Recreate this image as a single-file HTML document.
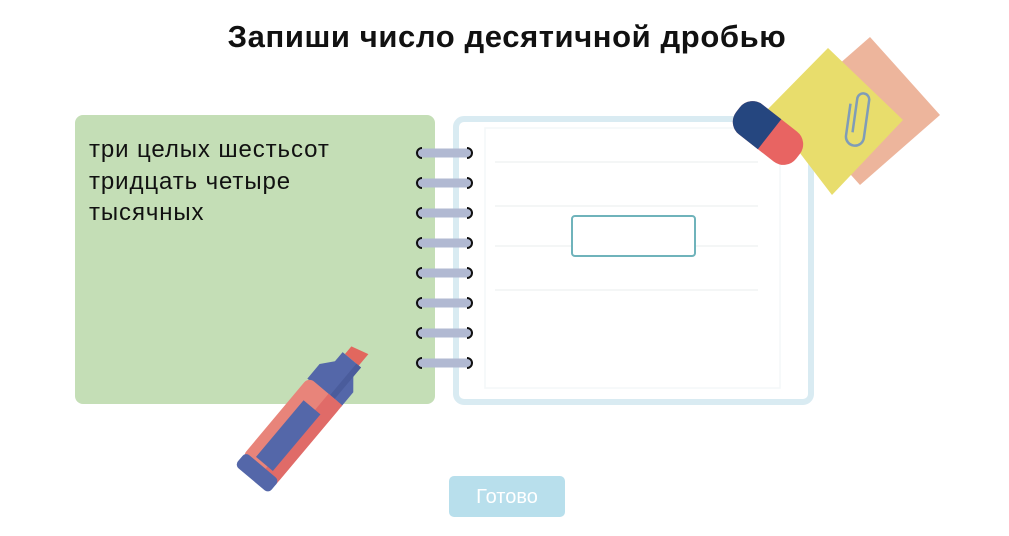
<!DOCTYPE html>
<html><head><meta charset="utf-8"><style>
html,body{margin:0;padding:0;background:#fff;}
body{width:1009px;height:536px;overflow:hidden;position:relative;font-family:"Liberation Sans","DejaVu Sans",sans-serif;}
</style></head><body>
<svg width="1009" height="536" viewBox="0 0 1009 536" xmlns="http://www.w3.org/2000/svg" style="position:absolute;left:0;top:0">
<text x="507" y="47" text-anchor="middle" font-family="Liberation Sans, DejaVu Sans, sans-serif" font-weight="bold" font-size="31" letter-spacing="0.6" fill="#111">Запиши число десятичной дробью</text>
<rect x="75" y="115" width="360" height="289" rx="8" fill="#c4deb6"/>
<g font-family="Liberation Sans, DejaVu Sans, sans-serif" font-size="24" letter-spacing="0.9" fill="#111">
<text x="89" y="157">три целых шестьсот</text>
<text x="89" y="189">тридцать четыре</text>
<text x="89" y="220">тысячных</text>
</g>
<rect x="456" y="119" width="355" height="283" rx="8" fill="#fff" stroke="#d9ebf2" stroke-width="6"/>
<rect x="485" y="128" width="295" height="260" fill="#fff" stroke="#f4f7f8" stroke-width="1.5"/>
<g stroke="#f1f3f4" stroke-width="1.5">
<line x1="495" y1="162" x2="758" y2="162"/><line x1="495" y1="206" x2="758" y2="206"/>
<line x1="495" y1="246" x2="758" y2="246"/><line x1="495" y1="290" x2="758" y2="290"/>
</g>
<rect x="572" y="216" width="123" height="40" rx="3" fill="#fff" stroke="#6fb3bb" stroke-width="2"/>
<g>
<g transform="translate(0,153)"><line x1="420" y1="0" x2="468" y2="0" stroke="#b1b9d2" stroke-width="9" stroke-linecap="round"/><path d="M422,-5 A5,5 0 0 0 422,5" fill="none" stroke="#111" stroke-width="2"/><path d="M467,-5 A5,5 0 0 1 467,5" fill="none" stroke="#111" stroke-width="2"/></g>
<g transform="translate(0,183)"><line x1="420" y1="0" x2="468" y2="0" stroke="#b1b9d2" stroke-width="9" stroke-linecap="round"/><path d="M422,-5 A5,5 0 0 0 422,5" fill="none" stroke="#111" stroke-width="2"/><path d="M467,-5 A5,5 0 0 1 467,5" fill="none" stroke="#111" stroke-width="2"/></g>
<g transform="translate(0,213)"><line x1="420" y1="0" x2="468" y2="0" stroke="#b1b9d2" stroke-width="9" stroke-linecap="round"/><path d="M422,-5 A5,5 0 0 0 422,5" fill="none" stroke="#111" stroke-width="2"/><path d="M467,-5 A5,5 0 0 1 467,5" fill="none" stroke="#111" stroke-width="2"/></g>
<g transform="translate(0,243)"><line x1="420" y1="0" x2="468" y2="0" stroke="#b1b9d2" stroke-width="9" stroke-linecap="round"/><path d="M422,-5 A5,5 0 0 0 422,5" fill="none" stroke="#111" stroke-width="2"/><path d="M467,-5 A5,5 0 0 1 467,5" fill="none" stroke="#111" stroke-width="2"/></g>
<g transform="translate(0,273)"><line x1="420" y1="0" x2="468" y2="0" stroke="#b1b9d2" stroke-width="9" stroke-linecap="round"/><path d="M422,-5 A5,5 0 0 0 422,5" fill="none" stroke="#111" stroke-width="2"/><path d="M467,-5 A5,5 0 0 1 467,5" fill="none" stroke="#111" stroke-width="2"/></g>
<g transform="translate(0,303)"><line x1="420" y1="0" x2="468" y2="0" stroke="#b1b9d2" stroke-width="9" stroke-linecap="round"/><path d="M422,-5 A5,5 0 0 0 422,5" fill="none" stroke="#111" stroke-width="2"/><path d="M467,-5 A5,5 0 0 1 467,5" fill="none" stroke="#111" stroke-width="2"/></g>
<g transform="translate(0,333)"><line x1="420" y1="0" x2="468" y2="0" stroke="#b1b9d2" stroke-width="9" stroke-linecap="round"/><path d="M422,-5 A5,5 0 0 0 422,5" fill="none" stroke="#111" stroke-width="2"/><path d="M467,-5 A5,5 0 0 1 467,5" fill="none" stroke="#111" stroke-width="2"/></g>
<g transform="translate(0,363)"><line x1="420" y1="0" x2="468" y2="0" stroke="#b1b9d2" stroke-width="9" stroke-linecap="round"/><path d="M422,-5 A5,5 0 0 0 422,5" fill="none" stroke="#111" stroke-width="2"/><path d="M467,-5 A5,5 0 0 1 467,5" fill="none" stroke="#111" stroke-width="2"/></g>
</g>
<polygon points="870,37 940,115 860,185 790,107" fill="#edb59c"/>
<polygon points="828,48 903,120 832,195 767,110" fill="#e8dd6c"/>
<g transform="translate(859,115) rotate(8)" fill="none" stroke="#7f9cb8" stroke-width="2.5">
<path d="M-4,18 L-4,-16 A6,6 0 0 1 8,-16 L8,22 A9,9 0 0 1 -10,22 L-10,-10"/>
</g>
<g transform="translate(768,133) rotate(38)">
<rect x="-38" y="-19" width="76" height="38" rx="16" fill="#e86462"/>
<path d="M-22,-19 L2,-19 L2,19 L-22,19 A16,16 0 0 1 -38,3 L-38,-3 A16,16 0 0 1 -22,-19 Z" fill="#25467f"/>
</g>
<g transform="translate(303,418) rotate(40)">
<polygon points="-9,-86 9,-91 9,-76 -9,-76" fill="#e2675e"/>
<path d="M-12,-76 L12,-76 L12,-64 L22,-52 L22,-33 L-22,-33 L-22,-52 L-12,-64 Z" fill="#5467a9"/>
<rect x="6" y="-76" width="6" height="43" fill="#4a5c9c"/>
<rect x="-22" y="-35" width="44" height="104" rx="7" fill="#e8847a"/>
<rect x="4" y="-35" width="18" height="104" fill="#e06b68"/>
<rect x="-11" y="-14" width="22" height="74" fill="#5467a9"/>
<rect x="-22" y="63" width="44" height="17" rx="5" fill="#5467a9"/>
</g>
<rect x="449" y="476" width="116" height="41" rx="5" fill="#b8dfec"/>
<text x="507" y="503" text-anchor="middle" font-family="Liberation Sans, DejaVu Sans, sans-serif" font-size="20" fill="#fff">Готово</text>
</svg>
</body></html>
